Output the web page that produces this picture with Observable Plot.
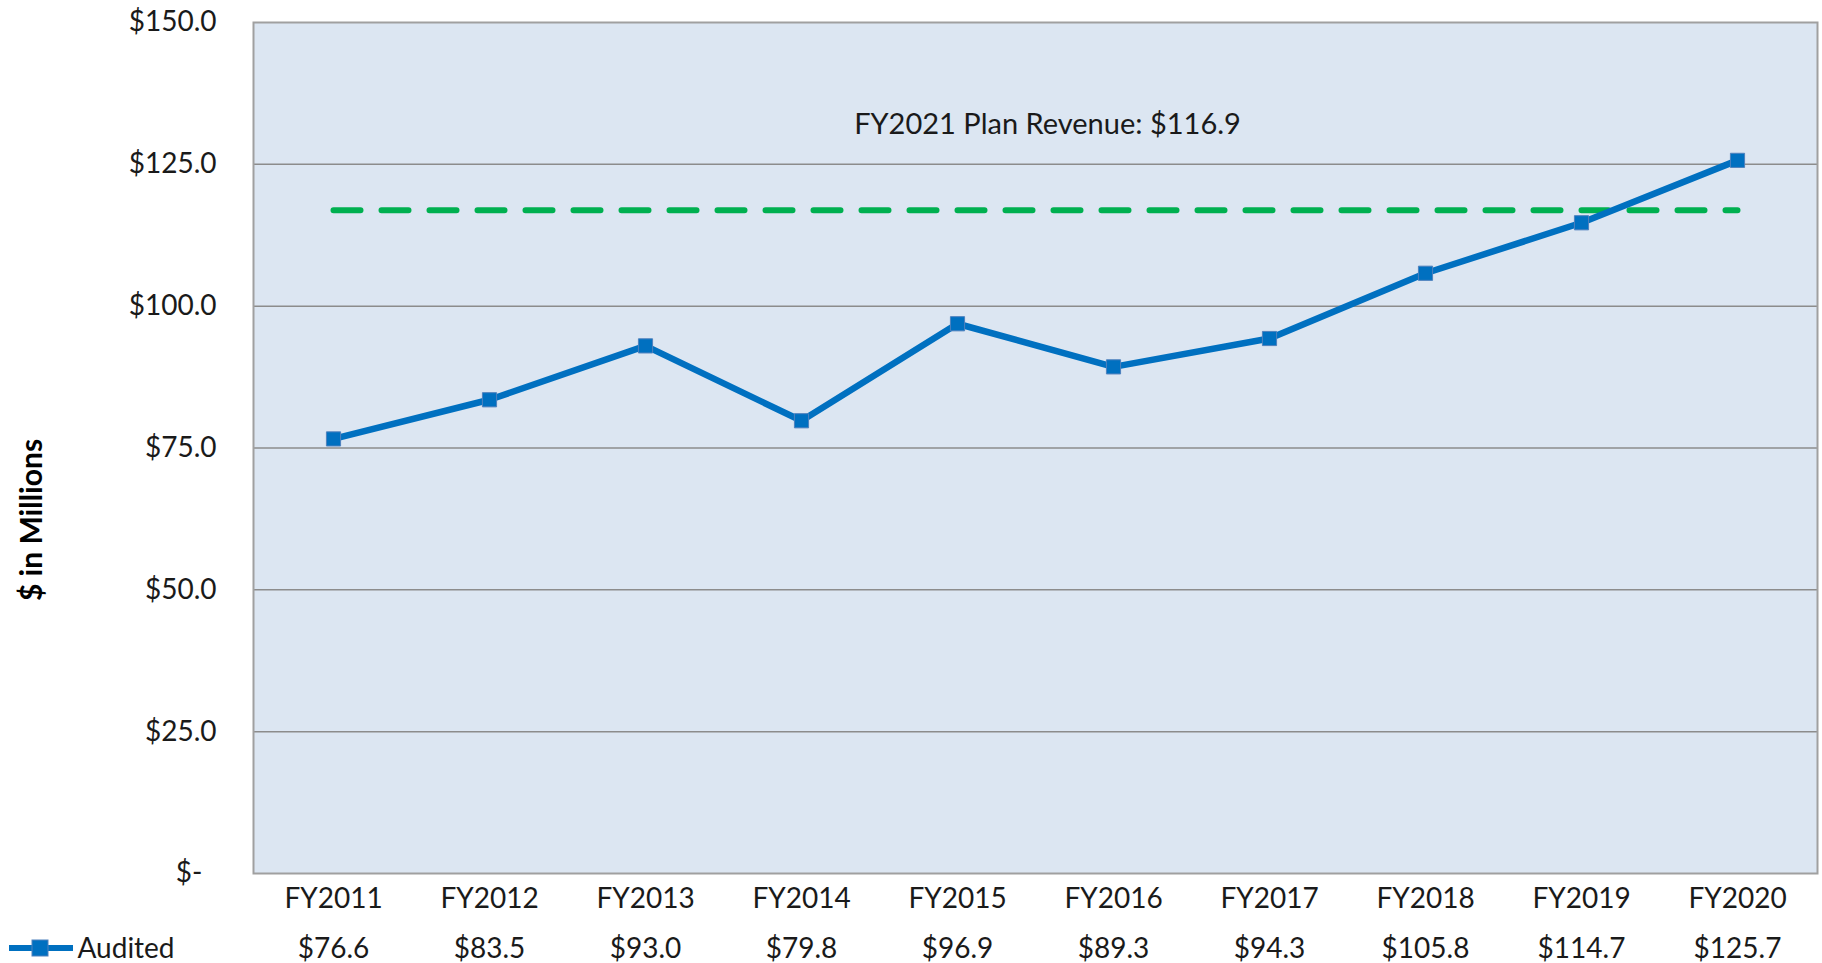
<!DOCTYPE html>
<html>
<head>
<meta charset="utf-8">
<script src="https://cdn.jsdelivr.net/npm/d3@7"></script>
<script src="https://cdn.jsdelivr.net/npm/@observablehq/plot@0.6"></script>
<style>
  html, body { margin: 0; padding: 0; background: #fff; }
  #wrap { position: relative; width: 1822px; height: 963px; }
  #legend { position: absolute; left: 9px; top: 939px; }
  #ytitle { position: absolute; left: 30px; top: 520px; transform: translate(-50%, -50%) rotate(-90deg);
            font-family: Lato, 'Open Sans', sans-serif; font-weight: bold; font-size: 30px; color: #000; white-space: nowrap; line-height: 1; }
</style>
</head>
<body>
<div id="wrap"></div>
<script>
const years = ["FY2011","FY2012","FY2013","FY2014","FY2015","FY2016","FY2017","FY2018","FY2019","FY2020"];
const audited = [76.6, 83.5, 93.0, 79.8, 96.9, 89.3, 94.3, 105.8, 114.7, 125.7];
const planRevenue = 116.9;
const planLabel = "FY2021 Plan Revenue: $116.9";
const yTicks = [0, 25, 50, 75, 100, 125, 150];
const seriesName = "Audited";
const yTitle = "$ in Millions";

const data = years.map((y, i) => ({year: y, value: audited[i]}));
const planData = years.map(y => ({year: y, value: planRevenue}));

const fmt = d => d === 0 ? "$-\u2002" : "$" + d.toFixed(1);

const chart = Plot.plot({
  width: 1822,
  height: 963,
  marginLeft: 253,
  marginRight: 5,
  marginTop: 22,
  marginBottom: 90,
  style: {fontFamily: "Lato, 'Open Sans', sans-serif", fontSize: "28px", color: "#1a1a1a", background: "#fff"},
  x: {type: "point", domain: years, padding: 0.5, label: null},
  y: {domain: [0, 150], label: null},
  marks: [
    Plot.frame({fill: "#dce6f2", stroke: "none"}),
    Plot.gridY(yTicks.slice(1, -1), {stroke: "#8c8c8c", strokeOpacity: 1, strokeWidth: 1.5}),
    Plot.frame({stroke: "#a0a0a0", strokeWidth: 2}),
    Plot.axisY({ticks: yTicks, tickSize: 0, tickPadding: 37, tickFormat: fmt, fontSize: 28}),
    Plot.axisX({tickSize: 0, tickPadding: 15, fontSize: 28}),
    Plot.text(data, {x: "year", text: d => "$" + d.value.toFixed(1), frameAnchor: "bottom", dy: 84, fontSize: 28, fill: "#1a1a1a"}),
    Plot.text([seriesName], {frameAnchor: "bottom-left", text: d => d, textAnchor: "start", dx: -176, dy: 84, fontSize: 28, fill: "#1a1a1a"}),
    Plot.line(planData, {x: "year", y: "value", stroke: "#00b050", strokeWidth: 6, strokeDasharray: "27,21"}),
    Plot.text([planLabel], {frameAnchor: "top", text: d => d, dx: 12, dy: 91, fontSize: 29, fill: "#1a1a1a"}),
    Plot.line(data, {x: "year", y: "value", stroke: "#0070c0", strokeWidth: 6.5}),
    Plot.dot(data, {x: "year", y: "value", symbol: "square", r: 8, fill: "#0070c0", stroke: "#4f81bd", strokeWidth: 1})
  ]
});
const wrap = document.getElementById("wrap");
wrap.appendChild(chart);
const leg = document.createElement("div");
leg.id = "legend";
leg.innerHTML = '<svg width="64" height="18"><line x1="1" y1="9" x2="63" y2="9" stroke="#0070c0" stroke-width="6" stroke-linecap="round"/><rect x="23" y="1" width="16" height="16" fill="#0070c0" stroke="#4f81bd" stroke-width="1"/></svg>';
wrap.appendChild(leg);
const yt = document.createElement("div");
yt.id = "ytitle";
yt.textContent = yTitle;
wrap.appendChild(yt);
</script>
</body>
</html>
